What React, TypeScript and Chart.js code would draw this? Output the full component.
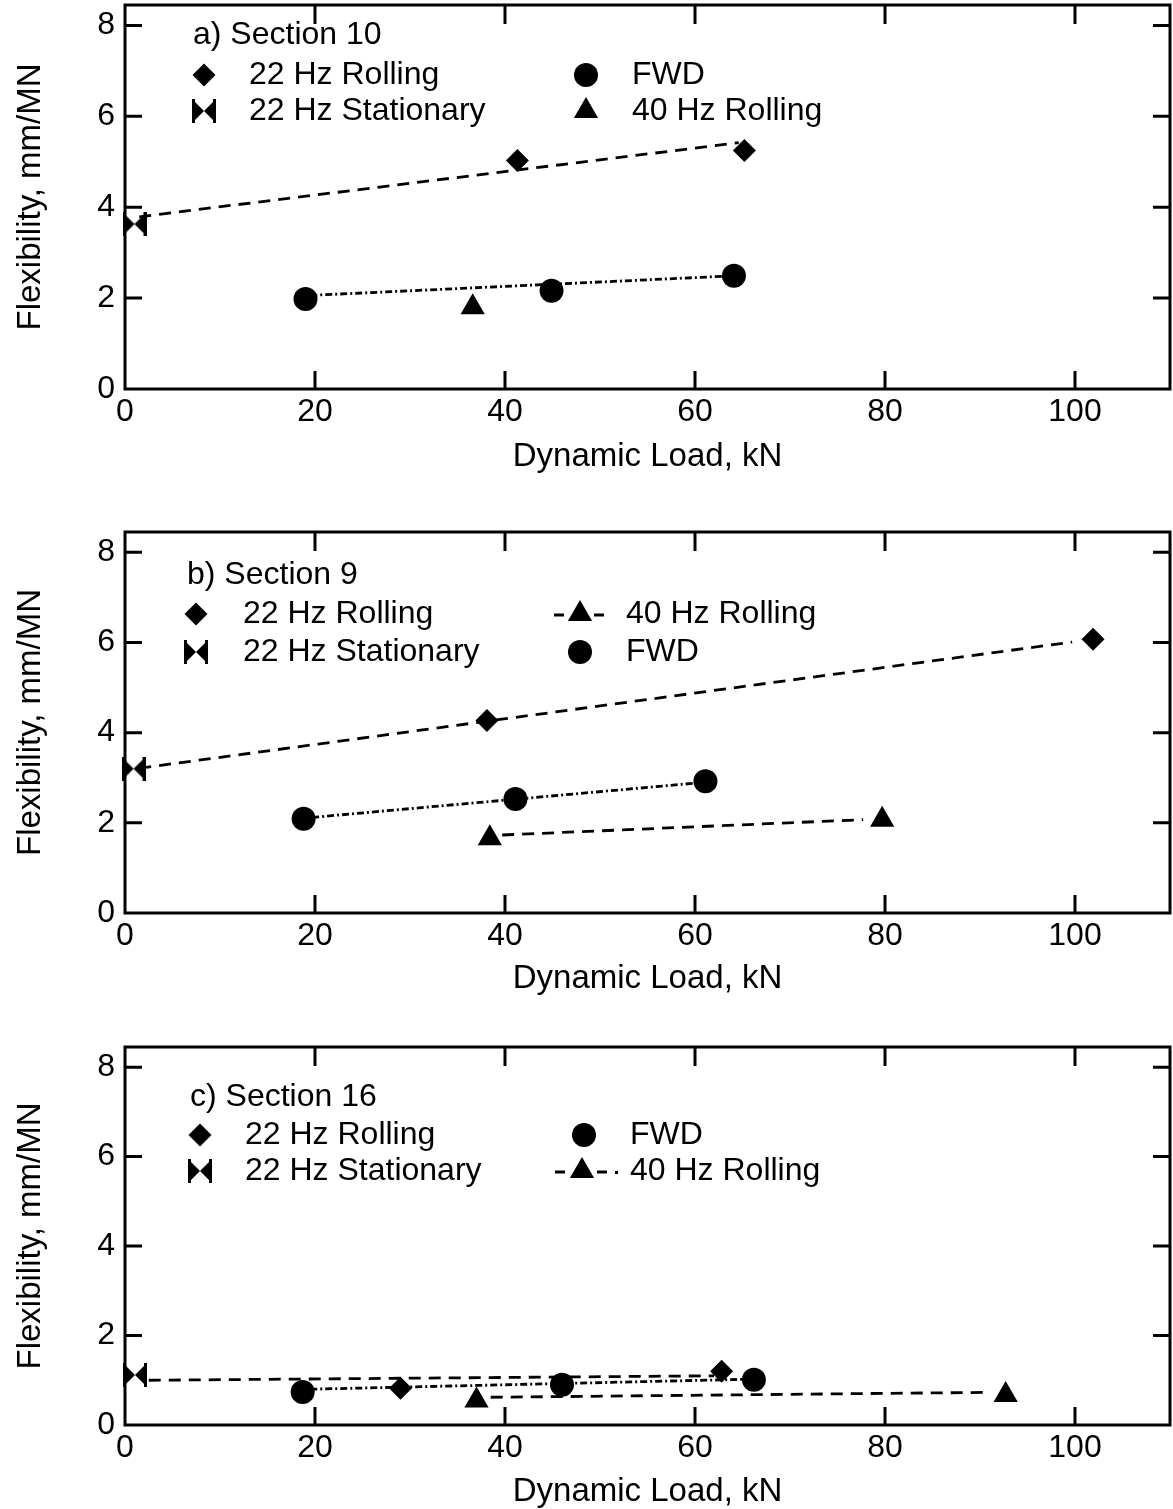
import React, { useEffect, useRef } from 'react';
import { Chart, registerables } from 'chart.js';

Chart.register(...registerables);

// ---------- shared axis data ----------
const X_TICKS = [0, 20, 40, 60, 80, 100];
const Y_TICKS = [0, 2, 4, 6, 8];
const X_MIN = 0;
const X_MAX = 110;
const Y_MIN = 0;
const Y_MAX = 8.45;
const X_TITLE = 'Dynamic Load, kN';
const Y_TITLE = 'Flexibility, mm/MN';

// ---------- panel a) Section 10 ----------
const A_ROLL22_X = [41.3, 65.2];
const A_ROLL22_Y = [5.03, 5.25];
const A_STAT22_X = [1.0];
const A_STAT22_Y = [3.63];
const A_FWD_X = [19.0, 44.9, 64.1];
const A_FWD_Y = [1.98, 2.16, 2.49];
const A_ROLL40_X = [36.6];
const A_ROLL40_Y = [1.8];
const A_FIT22_X = [1.5, 64.6];
const A_FIT22_Y = [3.79, 5.42];
const A_FITFWD_X = [19.5, 63.0];
const A_FITFWD_Y = [2.06, 2.48];

// ---------- panel b) Section 9 ----------
const B_ROLL22_X = [38.1, 101.9];
const B_ROLL22_Y = [4.27, 6.07];
const B_STAT22_X = [0.9];
const B_STAT22_Y = [3.2];
const B_FWD_X = [18.8, 41.1, 61.1];
const B_FWD_Y = [2.09, 2.53, 2.92];
const B_ROLL40_X = [38.4, 79.7];
const B_ROLL40_Y = [1.66, 2.07];
const B_FIT22_X = [1.5, 99.7];
const B_FIT22_Y = [3.21, 6.01];
const B_FITFWD_X = [19.7, 60.0];
const B_FITFWD_Y = [2.12, 2.88];
const B_FIT40_X = [39.7, 77.7];
const B_FIT40_Y = [1.73, 2.07];

// ---------- panel c) Section 16 ----------
const C_ROLL22_X = [29.0, 62.8];
const C_ROLL22_Y = [0.82, 1.2];
const C_STAT22_X = [1.05];
const C_STAT22_Y = [1.12];
const C_FWD_X = [18.7, 46.0, 66.2];
const C_FWD_Y = [0.74, 0.9, 1.01];
const C_ROLL40_X = [37.0, 92.7];
const C_ROLL40_Y = [0.55, 0.67];
const C_FIT22_X = [2.5, 62.0];
const C_FIT22_Y = [1.0, 1.1];
const C_FITFWD_X = [19.5, 65.0];
const C_FITFWD_Y = [0.8, 1.02];
const C_FIT40_X = [38.5, 91.0];
const C_FIT40_Y = [0.62, 0.73];

const FONT = '"Liberation Sans", Arial, Helvetica, sans-serif';
const TICK_SIZE = 32;
const TITLE_SIZE = 33;
const LEGEND_SIZE = 32;

const DASH = [12, 8];
const DASH_DOT = [7, 3, 2, 3];

const zip = (xs: number[], ys: number[]) => xs.map((x, i) => ({ x, y: ys[i] }));

function makeBowtie(): HTMLCanvasElement {
  const c = document.createElement('canvas');
  const s = 24;
  c.width = s;
  c.height = s;
  const g = c.getContext('2d')!;
  g.fillStyle = '#000';
  g.beginPath();
  g.moveTo(0, 0);
  g.lineTo(s / 2, s / 2);
  g.lineTo(0, s);
  g.closePath();
  g.fill();
  g.beginPath();
  g.moveTo(s, 0);
  g.lineTo(s / 2, s / 2);
  g.lineTo(s, s);
  g.closePath();
  g.fill();
  g.fillRect(0, 0, 3, s);
  g.fillRect(s - 3, 0, 3, s);
  return c;
}

type LegendItem = {
  marker: 'diamond' | 'bowtie' | 'circle' | 'triangle';
  mx: number;
  my: number;
  label: string;
  tx: number;
  dashes?: number[][];
  dots?: number[];
};

function drawMarker(ctx: CanvasRenderingContext2D, kind: string, x: number, y: number, bowtie: HTMLCanvasElement) {
  ctx.fillStyle = '#000';
  ctx.beginPath();
  if (kind === 'diamond') {
    const r = 11.5;
    ctx.moveTo(x - r, y);
    ctx.lineTo(x, y - r);
    ctx.lineTo(x + r, y);
    ctx.lineTo(x, y + r);
    ctx.closePath();
    ctx.fill();
  } else if (kind === 'circle') {
    ctx.arc(x, y, 12, 0, Math.PI * 2);
    ctx.fill();
  } else if (kind === 'triangle') {
    const r = 14;
    ctx.moveTo(x, y - r);
    ctx.lineTo(x + r * 0.866, y + r / 2);
    ctx.lineTo(x - r * 0.866, y + r / 2);
    ctx.closePath();
    ctx.fill();
  } else if (kind === 'bowtie') {
    ctx.drawImage(bowtie, x - bowtie.width / 2, y - bowtie.height / 2);
  }
}

const PANELS = [
  {
    key: 'a',
    canvasTop: 0,
    canvasHeight: 473,
    areaTop: 5,
    axisY: 389,
    title: 'a) Section 10',
    titleX: 193,
    titleY: 35,
    legend: [
      { marker: 'diamond', mx: 204, my: 75, label: '22 Hz Rolling', tx: 249 },
      { marker: 'bowtie', mx: 204, my: 111, label: '22 Hz Stationary', tx: 249 },
      { marker: 'circle', mx: 586, my: 75, label: 'FWD', tx: 632 },
      { marker: 'triangle', mx: 586, my: 111, label: '40 Hz Rolling', tx: 632 },
    ] as LegendItem[],
    points: [
      { style: 'rectRot', r: 11.5, data: zip(A_ROLL22_X, A_ROLL22_Y) },
      { style: 'bowtie', r: 12, data: zip(A_STAT22_X, A_STAT22_Y) },
      { style: 'circle', r: 12, data: zip(A_FWD_X, A_FWD_Y) },
      { style: 'triangle', r: 14, data: zip(A_ROLL40_X, A_ROLL40_Y) },
    ],
    lines: [
      { dash: DASH, data: zip(A_FIT22_X, A_FIT22_Y) },
      { dash: DASH_DOT, data: zip(A_FITFWD_X, A_FITFWD_Y) },
    ],
  },
  {
    key: 'b',
    canvasTop: 490,
    canvasHeight: 505,
    areaTop: 532,
    axisY: 913,
    title: 'b) Section 9',
    titleX: 187,
    titleY: 575,
    legend: [
      { marker: 'diamond', mx: 196, my: 614, label: '22 Hz Rolling', tx: 243 },
      { marker: 'bowtie', mx: 196, my: 652, label: '22 Hz Stationary', tx: 243 },
      { marker: 'triangle', mx: 580, my: 614, label: '40 Hz Rolling', tx: 626, dashes: [[554, 564], [594, 604]] },
      { marker: 'circle', mx: 580, my: 652, label: 'FWD', tx: 626 },
    ] as LegendItem[],
    points: [
      { style: 'rectRot', r: 11.5, data: zip(B_ROLL22_X, B_ROLL22_Y) },
      { style: 'bowtie', r: 12, data: zip(B_STAT22_X, B_STAT22_Y) },
      { style: 'circle', r: 12, data: zip(B_FWD_X, B_FWD_Y) },
      { style: 'triangle', r: 14, data: zip(B_ROLL40_X, B_ROLL40_Y) },
    ],
    lines: [
      { dash: DASH, data: zip(B_FIT22_X, B_FIT22_Y) },
      { dash: DASH_DOT, data: zip(B_FITFWD_X, B_FITFWD_Y) },
      { dash: DASH, data: zip(B_FIT40_X, B_FIT40_Y) },
    ],
  },
  {
    key: 'c',
    canvasTop: 1005,
    canvasHeight: 503,
    areaTop: 1047,
    axisY: 1425,
    title: 'c) Section 16',
    titleX: 190,
    titleY: 1097,
    legend: [
      { marker: 'diamond', mx: 200, my: 1135, label: '22 Hz Rolling', tx: 245 },
      { marker: 'bowtie', mx: 200, my: 1171, label: '22 Hz Stationary', tx: 245 },
      { marker: 'circle', mx: 584, my: 1135, label: 'FWD', tx: 630 },
      { marker: 'triangle', mx: 582, my: 1171, label: '40 Hz Rolling', tx: 630, dashes: [[555, 565], [597, 607]], dots: [616] },
    ] as LegendItem[],
    points: [
      { style: 'rectRot', r: 11.5, data: zip(C_ROLL22_X, C_ROLL22_Y) },
      { style: 'bowtie', r: 12, data: zip(C_STAT22_X, C_STAT22_Y) },
      { style: 'circle', r: 12, data: zip(C_FWD_X, C_FWD_Y) },
      { style: 'triangle', r: 14, data: zip(C_ROLL40_X, C_ROLL40_Y) },
    ],
    lines: [
      { dash: DASH, data: zip(C_FIT22_X, C_FIT22_Y) },
      { dash: DASH_DOT, data: zip(C_FITFWD_X, C_FITFWD_Y) },
      { dash: DASH, data: zip(C_FIT40_X, C_FIT40_Y) },
    ],
  },
];

function Panel({ p }: { p: (typeof PANELS)[number] }) {
  const ref = useRef<HTMLCanvasElement | null>(null);

  useEffect(() => {
    const canvas = ref.current;
    if (!canvas) return;
    const bowtie = makeBowtie();
    const W = 1173;
    const xAxisH = p.canvasTop + p.canvasHeight - p.axisY;

    const framePlugin = {
      id: 'frame' + p.key,
      beforeDatasetsDraw(chart: any) {
        const { ctx, chartArea } = chart;
        const { left, right, top, bottom } = chartArea;
        const xs = chart.scales.x;
        const ys = chart.scales.y;
        ctx.save();
        ctx.strokeStyle = '#000';
        ctx.lineWidth = 3;
        ctx.strokeRect(left, top, right - left, bottom - top);
        ctx.beginPath();
        for (const v of X_TICKS) {
          if (v <= X_MIN) continue;
          const px = xs.getPixelForValue(v);
          ctx.moveTo(px, bottom);
          ctx.lineTo(px, bottom - 18);
          ctx.moveTo(px, top);
          ctx.lineTo(px, top + 19);
        }
        for (const v of Y_TICKS) {
          if (v <= Y_MIN) continue;
          const py = ys.getPixelForValue(v);
          ctx.moveTo(left, py);
          ctx.lineTo(left + 17, py);
          ctx.moveTo(right, py);
          ctx.lineTo(right - 17, py);
        }
        ctx.stroke();
        ctx.restore();
      },
    };

    const legendPlugin = {
      id: 'legendBox' + p.key,
      afterDraw(chart: any) {
        const ctx: CanvasRenderingContext2D = chart.ctx;
        const off = p.canvasTop;
        ctx.save();
        ctx.fillStyle = '#000';
        ctx.strokeStyle = '#000';
        ctx.font = `${LEGEND_SIZE}px ${FONT}`;
        ctx.textBaseline = 'middle';
        ctx.textAlign = 'left';
        ctx.fillText(p.title, p.titleX, p.titleY - off);
        for (const it of p.legend) {
          const my = it.my - off;
          if (it.dashes) {
            ctx.lineWidth = 3;
            ctx.beginPath();
            for (const [a, b] of it.dashes) {
              ctx.moveTo(a, my + 1);
              ctx.lineTo(b, my + 1);
            }
            ctx.stroke();
          }
          if (it.dots) {
            for (const d of it.dots) ctx.fillRect(d - 1, my, 3, 3);
          }
          drawMarker(ctx, it.marker, it.mx, my, bowtie);
          ctx.fillStyle = '#000';
          ctx.fillText(it.label, it.tx, my);
        }
        ctx.restore();
      },
    };

    const datasets: any[] = [];
    for (const s of p.points) {
      datasets.push({
        data: s.data,
        pointStyle: s.style === 'bowtie' ? bowtie : s.style,
        pointRadius: s.r,
        pointHoverRadius: s.r,
        backgroundColor: '#000',
        borderColor: '#000',
        pointBorderWidth: 0,
        showLine: false,
        clip: false,
      });
    }
    for (const l of p.lines) {
      datasets.push({
        data: l.data,
        showLine: true,
        borderColor: '#000',
        borderWidth: 2.8,
        borderDash: l.dash,
        pointRadius: 0,
        pointHoverRadius: 0,
        fill: false,
        tension: 0,
        clip: false,
      });
    }

    const chart = new Chart(canvas, {
      type: 'scatter',
      data: { datasets },
      options: {
        animation: false,
        responsive: false,
        devicePixelRatio: 1,
        events: [],
        layout: {
          autoPadding: false,
          padding: { top: p.areaTop - p.canvasTop, right: W - 1170, left: 0, bottom: 0 },
        },
        plugins: { legend: { display: false }, tooltip: { enabled: false } },
        scales: {
          x: {
            type: 'linear',
            min: X_MIN,
            max: X_MAX,
            afterBuildTicks: (s: any) => {
              s.ticks = X_TICKS.map((v) => ({ value: v }));
            },
            afterFit: (s: any) => {
              s.height = xAxisH;
              s.paddingLeft = 0;
              s.paddingRight = 0;
              s.paddingTop = 0;
              s.paddingBottom = 0;
            },
            grid: { display: false, drawTicks: false },
            border: { display: false },
            ticks: {
              color: '#000',
              font: { family: FONT, size: TICK_SIZE, lineHeight: 1 },
              padding: 7,
              maxRotation: 0,
              autoSkip: false,
            },
            title: {
              display: true,
              text: X_TITLE,
              color: '#000',
              font: { family: FONT, size: TITLE_SIZE, lineHeight: 1 },
              padding: { top: 0, bottom: 0 },
            },
          },
          y: {
            type: 'linear',
            min: Y_MIN,
            max: Y_MAX,
            afterBuildTicks: (s: any) => {
              s.ticks = Y_TICKS.map((v) => ({ value: v }));
            },
            afterFit: (s: any) => {
              s.width = 125;
              s.paddingLeft = 0;
              s.paddingRight = 0;
              s.paddingTop = 0;
              s.paddingBottom = 0;
            },
            grid: { display: false, drawTicks: false },
            border: { display: false },
            ticks: {
              color: '#000',
              font: { family: FONT, size: TICK_SIZE, lineHeight: 1 },
              padding: 10,
              autoSkip: false,
            },
            title: {
              display: true,
              text: Y_TITLE,
              color: '#000',
              font: { family: FONT, size: TITLE_SIZE, lineHeight: 1 },
              padding: { top: 14, bottom: 0 },
            },
          },
        },
      } as any,
      plugins: [framePlugin, legendPlugin],
    });
    return () => chart.destroy();
  }, [p]);

  return (
    <canvas
      ref={ref}
      width={1173}
      height={p.canvasHeight}
      style={{ position: 'absolute', left: 0, top: p.canvasTop, width: 1173, height: p.canvasHeight, display: 'block' }}
    />
  );
}

export default function App() {
  return (
    <div
      style={{
        position: 'absolute',
        left: 0,
        top: 0,
        width: 1173,
        height: 1509,
        overflow: 'hidden',
        background: '#fff',
      }}
    >
      {PANELS.map((p) => (
        <Panel key={p.key} p={p} />
      ))}
    </div>
  );
}
